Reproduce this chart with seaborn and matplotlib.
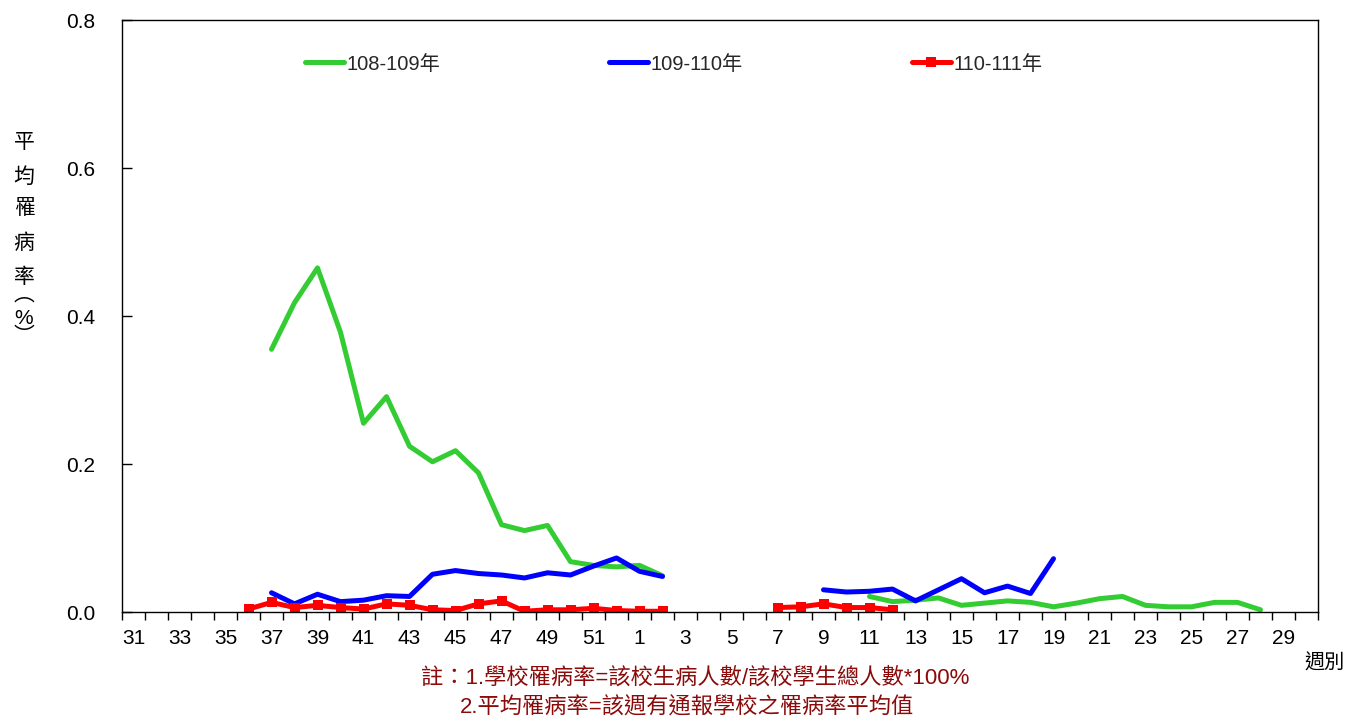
import numpy as np
import pandas as pd
import matplotlib
matplotlib.use("Agg")
import matplotlib.pyplot as plt
from matplotlib.lines import Line2D
import seaborn as sns

# ---------------- data ----------------
weeks = [31, 32, 33, 34, 35, 36, 37, 38, 39, 40, 41, 42, 43, 44, 45, 46, 47, 48, 49, 50, 51, 52,
         1, 2, 3, 4, 5, 6, 7, 8, 9, 10, 11, 12, 13, 14, 15, 16, 17, 18, 19, 20, 21, 22, 23, 24,
         25, 26, 27, 28, 29, 30]
N = None
rate_108_109 = [N, N, N, N, N, N,
                0.355, 0.418, 0.465, 0.378, 0.255, 0.291, 0.224, 0.203, 0.218, 0.188, 0.118,
                0.110, 0.117, 0.068, 0.063, 0.061, 0.063, 0.049,
                N, N, N, N, N, N, N, N,
                0.021, 0.014, 0.016, 0.019, 0.009, 0.012, 0.015, 0.013, 0.007, 0.012, 0.018,
                0.021, 0.009, 0.007, 0.007, 0.013, 0.013, 0.003,
                N, N]
rate_109_110 = [N, N, N, N, N, N,
                0.026, 0.011, 0.024, 0.014, 0.016, 0.022, 0.021, 0.051, 0.056, 0.052, 0.050,
                0.046, 0.053, 0.050, 0.062, 0.073, 0.055, 0.048,
                N, N, N, N, N, N,
                0.030, 0.027, 0.028, 0.031, 0.015, 0.030, 0.045, 0.026, 0.035, 0.025, 0.072,
                N, N, N, N, N, N, N, N, N, N, N]
rate_110_111 = [N, N, N, N, N,
                0.004, 0.013, 0.006, 0.009, 0.006, 0.004, 0.011, 0.009, 0.003, 0.002, 0.011,
                0.015, 0.001, 0.003, 0.003, 0.005, 0.002, 0.001, 0.001,
                N, N, N, N,
                0.006, 0.007, 0.011, 0.006, 0.006, 0.003,
                N, N, N, N, N, N, N, N, N, N, N, N, N, N, N, N, N, N]
series_names = ["108-109年", "109-110年", "110-111年"]
series_values = [rate_108_109, rate_109_110, rate_110_111]
y_ticks = [0.0, 0.2, 0.4, 0.6, 0.8]
y_tick_labels = ["0.0", "0.2", "0.4", "0.6", "0.8"]
note_lines = ["註：1.學校罹病率=該校生病人數/該校學生總人數*100%",
              "2.平均罹病率=該週有通報學校之罹病率平均值"]
ylabel_chars = ["平", "均", "罹", "病", "率", "︵", "%", "︶"]
xlabel_text = "週別"

# ---------------- style ----------------
colors = {"108-109年": "#33CC33", "109-110年": "#0000FF", "110-111年": "#FF0000"}
markers = {"108-109年": None, "109-110年": None, "110-111年": "s"}

sns.set_theme(style="white")
plt.rcParams["font.family"] = ["Liberation Sans", "Noto Sans CJK TC", "DejaVu Sans"]

rows = []
for name, vals in zip(series_names, series_values):
    seg = 0
    prev_nan = True
    for i, v in enumerate(vals):
        if v is None:
            prev_nan = True
            continue
        if prev_nan:
            seg += 1
        prev_nan = False
        rows.append({"x": i, "rate": v, "series": name, "seg": seg})
df = pd.DataFrame(rows)

W, H = 1349, 720
fig = plt.figure(figsize=(W / 100, H / 100), dpi=100)
ax = fig.add_axes([122 / W, 1 - 612 / H, 1196 / W, 592 / H])

for name in series_names:
    sub = df[df["series"] == name]
    sns.lineplot(data=sub, x="x", y="rate", units="seg", estimator=None, ax=ax,
                 color=colors[name], lw=3.6, marker=markers[name], markersize=7.5,
                 markeredgewidth=0, solid_capstyle="round", solid_joinstyle="round",
                 legend=False)

n = len(weeks)
ax.set_xlim(-0.5, n - 0.5)
ax.set_ylim(0, 0.8)
ax.set_xlabel("")
ax.set_ylabel("")

# x: labels at category centres (every other), tick marks at boundaries
label_idx = list(range(0, n, 2))
ax.set_xticks(label_idx)
ax.set_xticklabels([str(weeks[i]) for i in label_idx])
ax.set_xticks(np.arange(-0.5, n, 1.0), minor=True)
ax.tick_params(axis="x", which="major", length=0, pad=12, labelsize=15, colors="black")
ax.tick_params(axis="x", which="minor", length=6, width=1, direction="out", color="black",
               bottom=True)

ax.set_yticks(y_ticks)
ax.set_yticklabels(y_tick_labels)
ax.tick_params(axis="y", which="major", length=7, width=1, direction="in", pad=19.5,
               labelsize=15, colors="black", left=True)

for sp in ax.spines.values():
    sp.set_visible(True)
    sp.set_color("black")
    sp.set_linewidth(1.0)
ax.grid(False)

handles = [Line2D([0], [0], color=colors[nm], lw=3.6, marker=markers[nm], markersize=7.5,
                  markeredgewidth=0, solid_capstyle="round") for nm in series_names]
ax.legend(handles, series_names, loc="center left",
          bbox_to_anchor=((305 - 122) / 1196, (612 - 64) / 592), ncol=3, frameon=False,
          fontsize=14.5, handlelength=1.95, handletextpad=0.1, columnspacing=8.4,
          borderpad=0, borderaxespad=0)

# vertical y label
ylab_y = [143, 177, 208, 243, 277, 295, 318, 337]
for ch, yy in zip(ylabel_chars, ylab_y):
    fig.text(24 / W, 1 - yy / H, ch, ha="center", va="center", fontsize=15, color="black")

fig.text(1325 / W, 1 - 663 / H, xlabel_text, ha="center", va="center", fontsize=14.5,
         color="black")

fig.text(695 / W, 1 - 678 / H, note_lines[0], ha="center", va="center", fontsize=16,
         color="#8B0A0A")
fig.text(687 / W, 1 - 708 / H, note_lines[1], ha="center", va="center", fontsize=16,
         color="#8B0A0A")

fig.savefig("out.png", dpi=100)
